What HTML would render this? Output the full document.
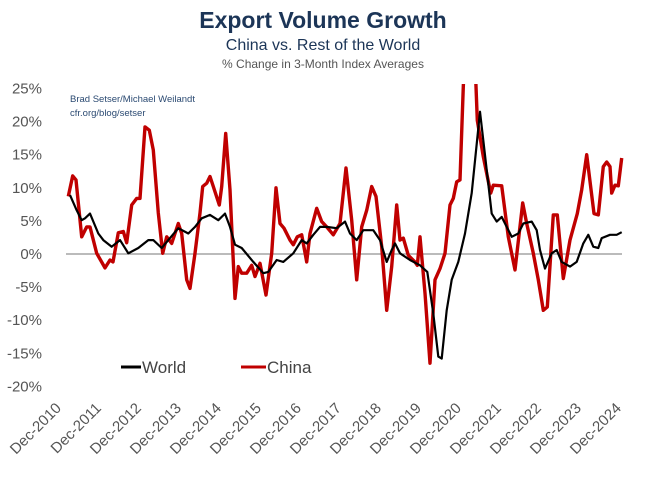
<!DOCTYPE html>
<html><head><meta charset="utf-8"><style>
body{margin:0;background:#fff;width:650px;height:473px;overflow:hidden;font-family:"Liberation Sans",sans-serif}
</style></head><body>
<svg width="650" height="473" xmlns="http://www.w3.org/2000/svg">
<text x="323" y="28" text-anchor="middle" font-size="23" font-weight="bold" fill="#1c3557">Export Volume Growth</text>
<text x="323" y="50" text-anchor="middle" font-size="16" fill="#1c3557">China vs. Rest of the World</text>
<text x="323" y="68" text-anchor="middle" font-size="12" fill="#555">% Change in 3-Month Index Averages</text>
<text x="70" y="102" font-size="9.5" fill="#2b4a72">Brad Setser/Michael Weilandt</text>
<text x="70" y="116" font-size="9.5" fill="#2b4a72">cfr.org/blog/setser</text>
<g id="yaxis"></g>
<g id="xaxis"></g>
<defs><clipPath id="pc"><rect x="55" y="84" width="590" height="320"/></clipPath></defs>
<line x1="66" x2="622" y1="254" y2="254" stroke="#777" stroke-width="1"/>
<g clip-path="url(#pc)">
<path id="china" fill="none" stroke="#c00000" stroke-width="3.4" stroke-linejoin="round"/>
<path id="world" fill="none" stroke="#000" stroke-width="2.2" stroke-linejoin="round"/>
</g>
<g>
<line x1="121" x2="141" y1="367" y2="367" stroke="#000" stroke-width="3"/>
<text x="142" y="373" font-size="17" fill="#444">World</text>
<line x1="241" x2="266" y1="367" y2="367" stroke="#c00000" stroke-width="3"/>
<text x="267" y="373" font-size="17" fill="#444">China</text>
</g>
</svg>
<script>
const yTicks=[25,20,15,10,5,0,-5,-10,-15,-20];
const xLabels=["Dec-2010","Dec-2011","Dec-2012","Dec-2013","Dec-2014","Dec-2015","Dec-2016","Dec-2017","Dec-2018","Dec-2019","Dec-2020","Dec-2021","Dec-2022","Dec-2023","Dec-2024"];
const chinaMonths=[0.7,2,3,4.7,6.2,7.2,9.2,11.7,13.2,14.1,15.7,17.2,18.2,19.7,21.2,22.2,23.7,25,26.2,27.7,29,30.2,31.7,33.7,34.7,36.2,37.2,38.7,40.2,41,42.2,43.2,44.2,46,46.7,47.9,49.2,50.7,51.7,52.7,54.2,55.7,56.7,58.2,60,61.7,63,64.2,65.4,67.2,68.2,69.4,70.7,72.2,73.2,75.2,76.7,78.2,80.2,82.2,84,85.7,87.2,88.7,90.2,91.7,93,94.7,96.2,97.7,99.2,100.2,101.2,102.7,104.7,105.4,106.2,107.7,109.2,110.7,112.2,113.7,115.2,116.2,117.2,118.2,119.2,119.8,122.5,123.4,125.2,127.4,128.2,130.7,132.7,134.7,137,138.2,140.2,141.7,143.2,144.4,146.2,147.4,149.2,151.2,153.4,154.7,156.2,158.4,159.7,161.2,162.2,163.2,163.7,164.7,165.7,166.7];
const chinaValues=[8.7,11.8,11.2,2.6,4.1,4.1,0.1,-2.1,-0.9,-1.2,3.2,3.4,1.7,7.4,8.4,8.4,19.2,18.7,15.7,6.2,0.1,2.6,1.6,4.6,3.1,-3.9,-5.2,0.1,6.2,10.2,10.7,11.7,10.2,7.4,10.2,18.2,9.7,-6.7,-1.9,-2.9,-2.9,-1.7,-3.4,-1.4,-6.2,0.1,10,4.6,3.9,2.1,1.4,2.6,2.9,-1.2,3.1,6.9,4.9,4.1,2.9,4.6,13,5.1,-3.9,4.1,6.6,10.2,8.7,1.1,-8.5,-1.9,7.4,2.1,2.4,-0.2,-1.2,-1.7,2.6,-5.9,-16.5,-3.9,-2.2,0.1,7.4,8.4,10.9,11.2,25.3,32,32,20.2,14.7,9.2,10.4,10.3,2.6,-2.4,7.7,4.6,0.1,-3.9,-8.5,-8,5.9,5.9,-3.7,2.1,6.1,9.7,15,6.1,5.9,13.2,13.9,13.2,9.2,10.4,10.3,14.5];
const worldMonths=[1.2,3.2,4.7,5.7,7.2,9.7,11.2,13.7,16.2,18.7,21.7,24.7,26.2,28.7,31.2,33.7,36.7,38.7,40.7,43.2,45.7,47.7,49.2,50.7,52.7,56.2,59.2,60.7,63.2,65.2,68.2,70.7,72.2,74.2,76.2,78.2,81.2,83.7,85.2,87.2,89.2,92.2,94.2,96.2,97.7,98.7,100.2,103.2,106.2,108.4,110.2,111.7,112.7,114.2,115.7,117.7,119.7,121.7,124.2,126.2,127.7,129.2,130.7,132.2,133.7,135.7,137.2,139.7,141.2,142.2,143.7,145.7,147.2,148.7,151.2,153.2,155.2,156.7,158.2,159.7,160.7,163.2,165.2,166.7];
const worldValues=[8.9,6.6,5.1,5.4,6.1,3.1,2.1,1.1,2.1,0.1,0.9,2.1,2.1,0.9,2.4,3.9,3.1,4.1,5.4,5.9,5.1,6.1,4.1,1.4,0.9,-1.2,-2.9,-2.7,-0.9,-1.2,0.1,2.1,1.6,2.9,4.1,4.1,3.9,4.9,3.1,2.1,3.6,3.6,2.1,-1.2,0.6,1.6,0.1,-0.9,-1.7,-2.7,-9,-15.5,-15.8,-8.5,-3.9,-1.2,3.1,9.2,21.5,12.7,6.1,4.9,5.6,4.1,2.6,3.1,4.6,4.9,3.6,0.6,-2.2,0.1,0.6,-1.2,-1.9,-1.2,1.6,2.9,1.1,0.9,2.4,2.9,2.9,3.3];

const X0=66,PX_PER_MONTH=40/12,Y0=254,PX_PER_PCT=6.62;
const xScale=m=>X0+m*PX_PER_MONTH;
const yScale=v=>Y0-v*PX_PER_PCT;
const NS="http://www.w3.org/2000/svg";
const ya=document.getElementById('yaxis');
yTicks.forEach(t=>{
  const el=document.createElementNS(NS,'text');
  el.setAttribute('x',42);el.setAttribute('y',yScale(t)+5);
  el.setAttribute('text-anchor','end');el.setAttribute('font-size','15');el.setAttribute('fill','#555');
  el.textContent=t+'%';
  
  
  ya.appendChild(el);
});
const xa=document.getElementById('xaxis');
xLabels.forEach((l,i)=>{
  const x=xScale(i*12)-4,y=409;
  const el=document.createElementNS(NS,'text');
  el.setAttribute('x',x);el.setAttribute('y',y);
  el.setAttribute('text-anchor','end');el.setAttribute('font-size','15');el.setAttribute('fill','#555');
  el.setAttribute('transform','rotate(-45 '+x+' '+y+')');
  el.textContent=l;
  
  
  xa.appendChild(el);
});
function pathFor(ms,vs){return ms.map((m,i)=>(i?'L':'M')+xScale(m).toFixed(1)+' '+yScale(vs[i]).toFixed(1)).join(' ');}
document.getElementById('china').setAttribute('d',pathFor(chinaMonths,chinaValues));
document.getElementById('world').setAttribute('d',pathFor(worldMonths,worldValues));
</script>
</body></html>
